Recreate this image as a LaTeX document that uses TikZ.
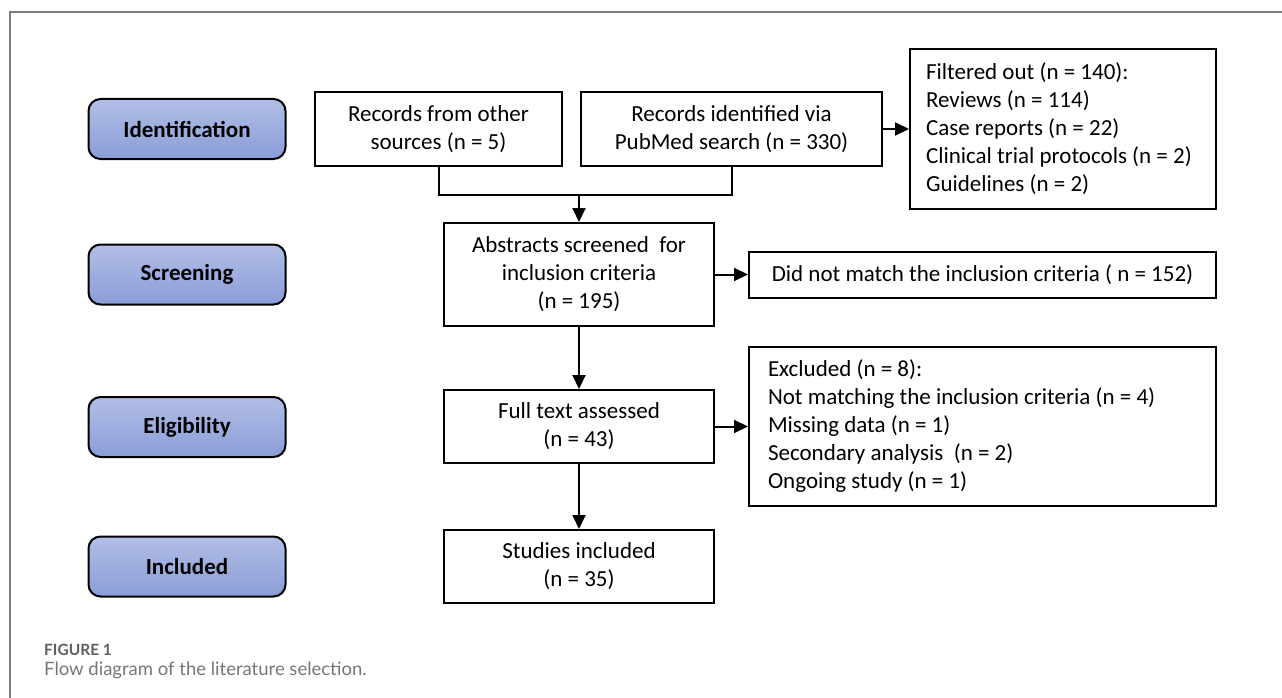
\documentclass[tikz,border=0pt]{standalone}
\usepackage{fontspec}
\setmainfont{Carlito}
\newfontfamily\capfont{Lato}
\usetikzlibrary{arrows.meta}
\definecolor{stagetop}{RGB}{178,190,230}
\definecolor{stagebot}{RGB}{138,157,215}
\definecolor{capgray}{RGB}{95,95,95}
\definecolor{titlegray}{RGB}{118,118,118}
\definecolor{framegray}{RGB}{125,125,125}
\tikzstyle{stage}=[rectangle,rounded corners=12pt,draw=black,line width=2pt,top color=stagetop,bottom color=stagebot,minimum width=197pt,minimum height=60pt,font=\fontsize{23}{28}\selectfont\bfseries]
\tikzstyle{box}=[rectangle,draw=black,line width=2pt,fill=white,align=center,inner sep=0pt,font=\fontsize{23}{28}\selectfont]
\tikzstyle{listbox}=[box,align=flush left]
\tikzstyle{arr}=[line width=2pt,-{Triangle[length=14pt,width=13pt]}]
\tikzstyle{captext}=[anchor=base west,inner sep=0pt]

\begin{document}
\begin{tikzpicture}[x=1pt,y=-1pt]
\useasboundingbox (0,0) rectangle (1282,698);
\draw[framegray,line width=1.5pt] (10,698) -- (10,12) -- (1282,12);
% stages
\node[stage] (ident) at (187,129) {Identification};
\node[stage] (screen) at (187,274.5) {Screening};
\node[stage] (elig) at (187,427) {Eligibility};
\node[stage] (incl) at (187,566.5) {Included};
% flow
\node[box,minimum width=247pt,minimum height=74pt] (other) at (438.5,129) {Records from other\\sources (n = 5)};
\node[box,minimum width=301pt,minimum height=74pt] (pubmed) at (731.5,129) {Records identified via\\PubMed search (n = 330)};
\node[listbox,minimum width=306pt,minimum height=160pt,inner xsep=16pt,text width=274pt] (filtered) at (1063,129) {Filtered out (n = 140):\\Reviews (n = 114)\\Case reports (n = 22)\\Clinical trial protocols (n = 2)\\Guidelines (n = 2)};
\node[box,minimum width=270pt,minimum height=103pt] (abstracts) at (579,274.5) {Abstracts screened\ \ for\\inclusion criteria\\(n = 195)};
\node[box,minimum width=467pt,minimum height=46pt] (nomatch) at (982.5,275) {Did not match the inclusion criteria ( n = 152)};
\node[box,minimum width=270pt,minimum height=73pt] (fulltext) at (579,426.5) {Full text assessed\\(n = 43)};
\node[listbox,minimum width=467pt,minimum height=159pt,inner xsep=19pt,text width=429pt] (excluded) at (982.5,426.5) {Excluded (n = 8):\\Not matching the inclusion criteria (n = 4)\\Missing data (n = 1)\\Secondary analysis\ \ (n = 2)\\Ongoing study (n = 1)};
\node[box,minimum width=270pt,minimum height=73pt] (studies) at (579,566.5) {Studies included\\(n = 35)};
\coordinate (merge) at (579,195);
\draw[line width=2pt] (other.south) |- (merge) -| (pubmed.south);
\draw[arr] (merge) -- (abstracts.north);
\draw[arr] (pubmed.east) -- (filtered.west |- pubmed.east);
\draw[arr] (abstracts.east) -- (nomatch.west |- abstracts.east);
\draw[arr] (abstracts.south) -- (fulltext.north);
\draw[arr] (fulltext.east) -- (excluded.west |- fulltext.east);
\draw[arr] (fulltext.south) -- (studies.north);
% caption
\node[captext,text=capgray,font=\capfont\fontsize{15.5}{18}\selectfont\bfseries] (fig) at (44,655) {FIGURE 1};
\node[captext,text=titlegray,font=\capfont\fontsize{18.5}{22}\selectfont] (title) at (44,675) {Flow diagram of the literature selection.};
\end{tikzpicture}
\end{document}
